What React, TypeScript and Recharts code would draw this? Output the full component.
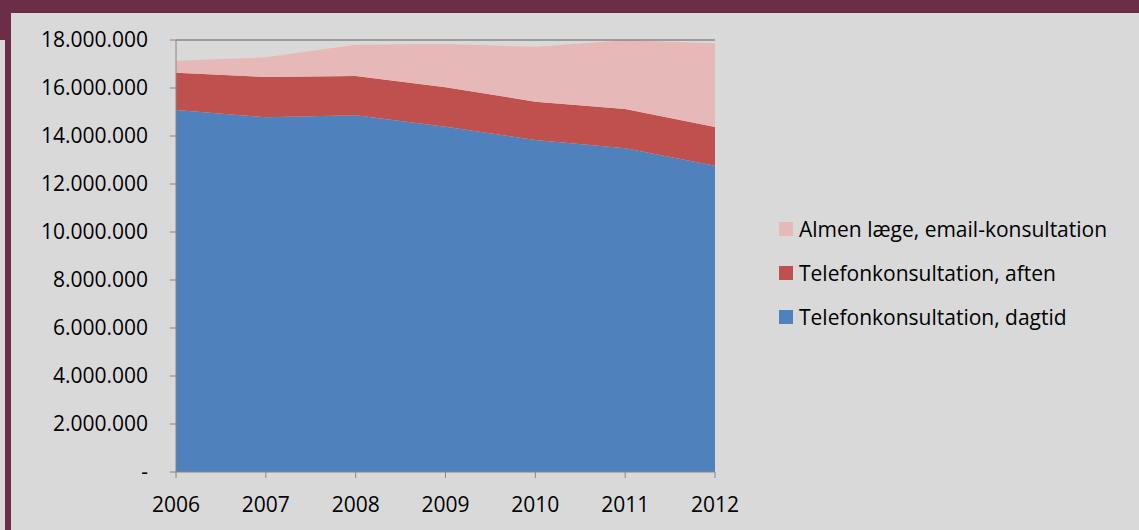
import { AreaChart, Area, XAxis, YAxis, ReferenceLine } from "recharts"

const years = ["2006", "2007", "2008", "2009", "2010", "2011", "2012"]
const dagtid = [15080000, 14780000, 14860000, 14390000, 13830000, 13490000, 12760000]
const aften = [1560000, 1680000, 1640000, 1640000, 1600000, 1640000, 1620000]
const email = [500000, 820000, 1300000, 1800000, 2290000, 2860000, 3480000]
const yTicks = [0, 2000000, 4000000, 6000000, 8000000, 10000000, 12000000, 14000000, 16000000, 18000000]

const series = [
  { key: "email", name: "Almen læge, email-konsultation", color: "#E6B9B8" },
  { key: "aften", name: "Telefonkonsultation, aften", color: "#C0504D" },
  { key: "dagtid", name: "Telefonkonsultation, dagtid", color: "#4F81BD" },
]

const data = years.map((year, i) => ({
  year,
  dagtid: dagtid[i],
  aften: aften[i],
  email: email[i],
}))

const font = "'Open Sans', sans-serif"
const axisColor = "#868686"

// danish style thousands separator, zero shown as a dash
function formatTick(v: number) {
  if (v === 0) return "-"
  return String(v).replace(/\B(?=(\d{3})+(?!\d))/g, ".")
}

function LegendBox() {
  return (
    <div style={{ position: "absolute", left: 779, top: 207, fontFamily: font, fontSize: 21, color: "#000" }}>
      {series.map((s) => (
        <div key={s.key} style={{ display: "flex", alignItems: "center", height: 44, whiteSpace: "nowrap" }}>
          <span style={{ width: 14, height: 14, background: s.color, marginRight: 6, display: "inline-block" }} />
          <span>{s.name}</span>
        </div>
      ))}
    </div>
  )
}

export default function App() {
  return (
    <div style={{ position: "absolute", left: 0, top: 0, width: 1139, height: 530, background: "#D9D9D9", overflow: "hidden" }}>
      <div style={{ position: "absolute", left: 0, top: 0, width: 1139, height: 13, background: "#6B2D47" }} />
      <div style={{ position: "absolute", left: 5, top: 0, width: 6, height: 530, background: "#6B2D47" }} />
      <div style={{ position: "absolute", left: 0, top: 0, width: 5, height: 40, background: "#6B2D47" }} />
      <div style={{ position: "absolute", left: 0, top: 0 }}>
        <AreaChart width={1139} height={530} data={data} margin={{ top: 40, right: 424, bottom: 0, left: 0 }}>
          <XAxis
            dataKey="year"
            height={58}
            axisLine={{ stroke: axisColor }}
            tickLine={{ stroke: axisColor }}
            tickSize={6}
            tickMargin={19}
            tick={{ fill: "#000", fontSize: 21, fontFamily: font }}
          />
          <YAxis
            width={176}
            domain={[0, 18000000]}
            ticks={yTicks}
            interval={0}
            tickFormatter={formatTick}
            axisLine={{ stroke: axisColor }}
            tickLine={{ stroke: axisColor }}
            tickSize={6}
            tickMargin={22}
            tick={{ fill: "#000", fontSize: 21, fontFamily: font }}
          />
          <Area type="linear" dataKey="dagtid" name="Telefonkonsultation, dagtid" stackId="1" stroke="none" fill="#4F81BD" fillOpacity={1} isAnimationActive={false} />
          <Area type="linear" dataKey="aften" name="Telefonkonsultation, aften" stackId="1" stroke="none" fill="#C0504D" fillOpacity={1} isAnimationActive={false} />
          <Area type="linear" dataKey="email" name="Almen læge, email-konsultation" stackId="1" stroke="none" fill="#E6B9B8" fillOpacity={1} isAnimationActive={false} />
          <ReferenceLine y={18000000} stroke={axisColor} strokeWidth={1.5} />
        </AreaChart>
      </div>
      <LegendBox />
    </div>
  )
}
